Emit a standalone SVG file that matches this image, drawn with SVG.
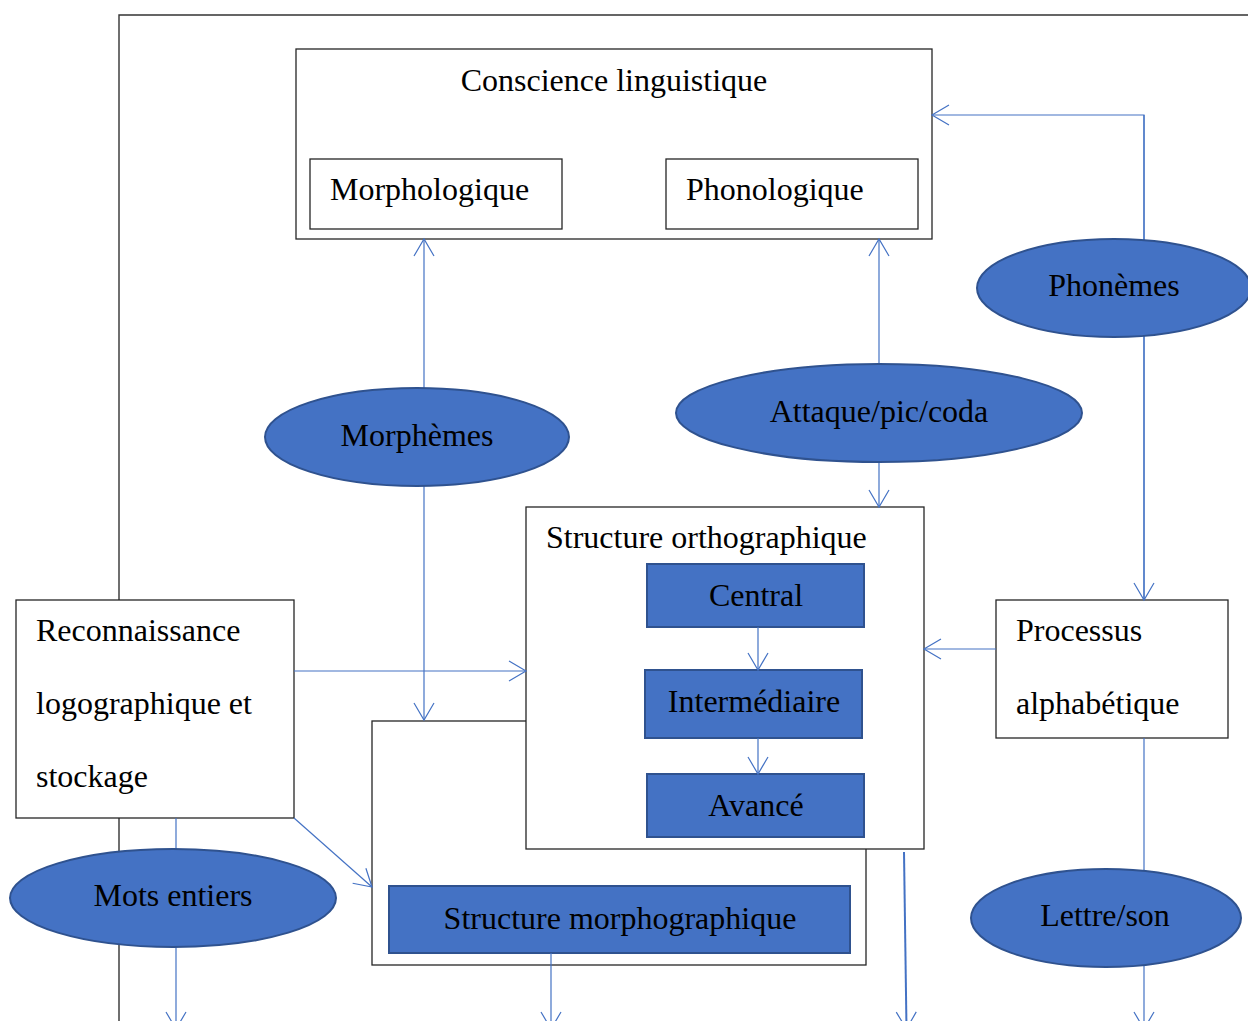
<svg xmlns="http://www.w3.org/2000/svg" width="1248" height="1021" viewBox="0 0 1248 1021">
<style>
  text { font-family: "Liberation Serif", "Times New Roman", serif; font-size: 32px; fill: #000; }
  .c { text-anchor: middle; }
  .box { fill: #fff; stroke: #262626; stroke-width: 1.3; }
  .blue { fill: #4472C4; stroke: #2F528F; stroke-width: 2; }
  .frame { fill: none; stroke: #333; stroke-width: 1.4; }
  .con { fill: none; stroke: #4472C4; stroke-width: 1.2; }
</style>
<defs>
  <marker id="arr" viewBox="-20 -12 22 24" refX="0" refY="0" markerWidth="22" markerHeight="24" markerUnits="userSpaceOnUse" orient="auto-start-reverse">
    <path d="M-17,-10 L0,0 L-17,10" fill="none" stroke="#4472C4" stroke-width="1.2"/>
  </marker>
</defs>
<rect width="1248" height="1021" fill="#fff"/>

<g id="frame">
  <path class="frame" d="M119,1021 V15 H1248"/>
</g>

<g id="conscience">
  <rect class="box" x="296" y="49" width="636" height="190"/>
  <text x="614" y="91" class="c">Conscience linguistique</text>
</g>
<g id="morphologique">
  <rect class="box" x="310" y="159" width="252" height="70"/>
  <text x="330" y="200">Morphologique</text>
</g>
<g id="phonologique">
  <rect class="box" x="666" y="159" width="252" height="70"/>
  <text x="686" y="200">Phonologique</text>
</g>
<g id="morphographique-cadre">
  <rect class="box" x="372" y="721" width="494" height="244"/>
</g>
<g id="orthographique">
  <rect class="box" x="526" y="507" width="398" height="342"/>
  <text x="546" y="548">Structure orthographique</text>
</g>
<g id="central">
  <rect class="blue" x="647" y="564" width="217" height="63"/>
  <text x="756" y="606" class="c">Central</text>
</g>
<g id="intermediaire">
  <rect class="blue" x="645" y="670" width="217" height="68"/>
  <text x="754" y="712" class="c">Intermédiaire</text>
</g>
<g id="avance">
  <rect class="blue" x="647" y="774" width="217" height="63"/>
  <text x="756" y="816" class="c">Avancé</text>
</g>
<g id="morphographique">
  <rect class="blue" x="389" y="886" width="461" height="67"/>
  <text x="620" y="929" class="c">Structure morphographique</text>
</g>
<g id="reconnaissance">
  <rect class="box" x="16" y="600" width="278" height="218"/>
  <text x="36" y="641">Reconnaissance</text>
  <text x="36" y="714">logographique et</text>
  <text x="36" y="787">stockage</text>
</g>
<g id="processus">
  <rect class="box" x="996" y="600" width="232" height="138"/>
  <text x="1016" y="641">Processus</text>
  <text x="1016" y="714">alphabétique</text>
</g>

<g id="connectors">
  <path class="con" d="M1144,600 V115 H932" marker-end="url(#arr)"/>
  <path class="con" d="M1144,115 V600" marker-end="url(#arr)"/>
  <path class="con" d="M424,239 V720" marker-start="url(#arr)" marker-end="url(#arr)"/>
  <path class="con" d="M879,239 V507" marker-start="url(#arr)" marker-end="url(#arr)"/>
  <path class="con" d="M294,671 H526" marker-end="url(#arr)"/>
  <path class="con" d="M294,818 L372,887" marker-end="url(#arr)"/>
  <path class="con" d="M996,649 H924" marker-end="url(#arr)"/>
  <path class="con" d="M758,627 V670" marker-end="url(#arr)"/>
  <path class="con" d="M758,738 V774" marker-end="url(#arr)"/>
  <path class="con" d="M176,818 V1029" marker-end="url(#arr)"/>
  <path class="con" d="M551,953 V1029" marker-end="url(#arr)"/>
  <path class="con" d="M904,852 L906.5,1029" style="stroke-width:2" marker-end="url(#arr)"/>
  <path class="con" d="M1144,738 V1029" marker-end="url(#arr)"/>
</g>

<g id="phonemes">
  <ellipse class="blue" cx="1114" cy="288" rx="137" ry="49"/>
  <text x="1114" y="296" class="c">Phonèmes</text>
</g>
<g id="morphemes">
  <ellipse class="blue" cx="417" cy="437" rx="152" ry="49"/>
  <text x="417" y="446" class="c">Morphèmes</text>
</g>
<g id="attaque">
  <ellipse class="blue" cx="879" cy="413" rx="203" ry="49"/>
  <text x="879" y="422" class="c">Attaque/pic/coda</text>
</g>
<g id="mots-entiers">
  <ellipse class="blue" cx="173" cy="898" rx="163" ry="49"/>
  <text x="173" y="906" class="c">Mots entiers</text>
</g>
<g id="lettre-son">
  <ellipse class="blue" cx="1106" cy="918" rx="135" ry="49"/>
  <text x="1105" y="926" class="c">Lettre/son</text>
</g>
</svg>
